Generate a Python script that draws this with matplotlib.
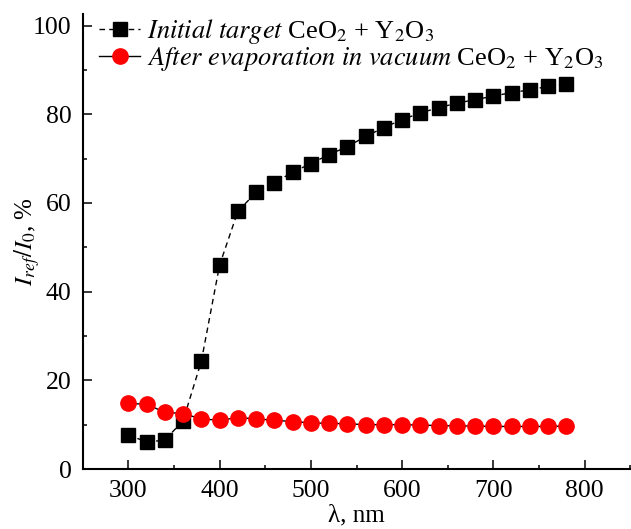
import matplotlib
matplotlib.use("Agg")
import matplotlib.pyplot as plt
from matplotlib.ticker import MultipleLocator

plt.rcParams['font.family'] = ['Liberation Serif', 'DejaVu Serif']
plt.rcParams['mathtext.fontset'] = 'stix'

wavelength = [300, 320, 340, 360, 380, 400, 420, 440, 460, 480, 500, 520, 540,
              560, 580, 600, 620, 640, 660, 680, 700, 720, 740, 760, 780]

initial_target = [7.7, 6.1, 6.5, 10.9, 24.3, 46.0, 58.1, 62.4, 64.6, 66.9, 68.9,
                  70.9, 72.7, 75.0, 77.0, 78.8, 80.3, 81.5, 82.5, 83.3, 84.1,
                  84.9, 85.5, 86.3, 86.9]

after_evap = [14.8, 14.6, 12.8, 12.5, 11.3, 11.0, 11.6, 11.3, 11.0, 10.7, 10.4,
              10.3, 10.2, 10.0, 10.0, 10.0, 9.9, 9.8, 9.7, 9.7, 9.6, 9.6, 9.6,
              9.6, 9.7]

label_1 = r'$\mathit{Initial\ target}$ CeO$_2$ + Y$_2$O$_3$'
label_2 = r'$\mathit{After\ evaporation\ in\ vacuum}$ CeO$_2$ + Y$_2$O$_3$'

fig = plt.figure(figsize=(6.31, 5.29), dpi=100)
ax = fig.add_axes([0.131, 0.1134, 0.868, 0.86])

ax.plot(wavelength, initial_target, color='k', ls=(0, (4, 3)), lw=1.0,
        marker='s', ms=9.5, mfc='k', mec='k', label=label_1)
ax.plot(wavelength, after_evap, color='k', ls='-', lw=1.0,
        marker='o', ms=11, mfc='red', mec='red', label=label_2)

ax.set_xlim(250, 850)
ax.set_ylim(0, 102.6)
ax.xaxis.set_major_locator(MultipleLocator(100))
ax.xaxis.set_minor_locator(MultipleLocator(50))
ax.yaxis.set_major_locator(MultipleLocator(20))
ax.yaxis.set_minor_locator(MultipleLocator(10))

for s in ['top', 'right']:
    ax.spines[s].set_visible(False)
for s in ['left', 'bottom']:
    ax.spines[s].set_linewidth(1.5)

ax.tick_params(which='major', direction='in', length=6.5, width=1.1,
               labelsize=18.5, pad=8)
ax.tick_params(which='minor', direction='in', length=3.2, width=1.1)

ax.set_xlabel('λ, nm', fontsize=18)
ax.xaxis.set_label_coords(0.5, -0.078)
ax.set_ylabel(r'$I_{ref}/I_0$, %', fontsize=18)
ax.yaxis.set_label_coords(-0.075, 0.5)

ax.legend(loc='upper left', bbox_to_anchor=(0.03, 0.993), frameon=False,
          fontsize=19, handlelength=1.55, handletextpad=0.27, labelspacing=-0.05,
          borderpad=0, borderaxespad=0)

fig.savefig('out.png', dpi=100)
